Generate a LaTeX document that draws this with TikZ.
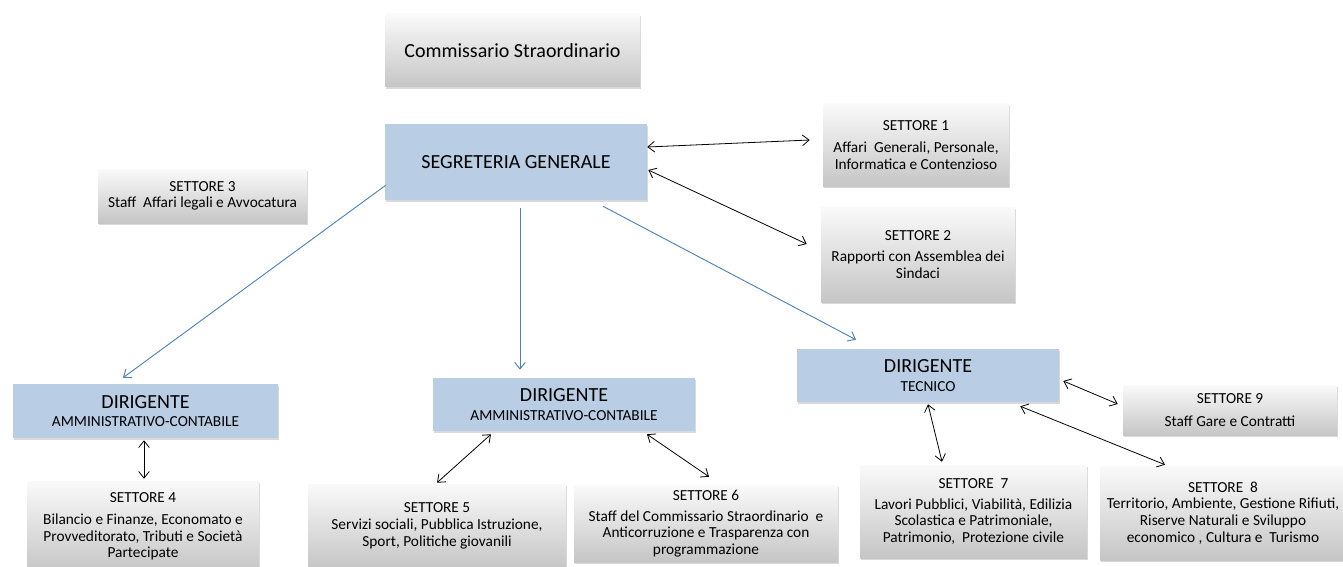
\documentclass[tikz,border=0pt]{standalone}
\usepackage{fontspec}
\setmainfont{Carlito}
\usetikzlibrary{arrows.meta,shadows}
\definecolor{dirblue}{RGB}{185,205,229}
\definecolor{linkblue}{RGB}{79,129,189}
\newcommand{\bigtxt}{\fontsize{15}{18}\selectfont}
\newcommand{\midtxt}{\fontsize{11.5}{15}\selectfont}
\newcommand{\smalltxt}{\fontsize{11.5}{12.5}\selectfont}

\begin{document}
\begin{tikzpicture}[x=0.75pt,y=-0.75pt]

      \tikzset{boxsize/.style 2 args={minimum width=#1*0.75pt, minimum height=#2*0.75pt},
               greybox/.style={top color=gray!4, bottom color=gray!45, align=center, inner sep=0pt, font=\smalltxt,
                               drop shadow={opacity=0.3, shadow xshift=1pt, shadow yshift=-1.5pt}},
               bluebox/.style={fill=dirblue, align=center, inner sep=0pt, font=\bigtxt,
                               drop shadow={opacity=0.3, shadow xshift=1pt, shadow yshift=-1.5pt}},
               bluelink/.style={color=linkblue, line width=0.7pt, -{Straight Barb[length=5pt,width=8pt]}},
               twolink/.style={color=black, line width=0.6pt, {Straight Barb[length=5pt,width=8pt]}-{Straight Barb[length=5pt,width=8pt]}}}
      \useasboundingbox (0,0) rectangle (1343,567);
% Vertices
      	\node[greybox, font=\bigtxt, boxsize={255}{73}] (comm) at (512.5,50.5) {Commissario Straordinario};
      	\node[bluebox, boxsize={262}{76}] (seg) at (516,162) {SEGRETERIA GENERALE};
      	\node[greybox, boxsize={186}{82}] (set1) at (916,145) {SETTORE 1\\[4pt]Affari~ Generali, Personale,\\Informatica e Contenzioso};
      	\node[greybox, boxsize={194}{95}] (set2) at (918,254.5) {SETTORE 2\\[3pt]Rapporti con Assemblea dei\\Sindaci};
      	\node[greybox, boxsize={209}{54}] (set3) at (202.5,196) {SETTORE 3\\Staff~ Affari legali e Avvocatura};
      	\node[bluebox, boxsize={265}{54}] (dirA) at (145.5,411) {DIRIGENTE\\[-4pt]{\midtxt AMMINISTRATIVO-CONTABILE}};
      	\node[bluebox, boxsize={262}{53}] (dirB) at (564,404.5) {DIRIGENTE\\[-4pt]{\midtxt AMMINISTRATIVO-CONTABILE}};
      	\node[bluebox, boxsize={262}{53}] (dirT) at (928,375.5) {DIRIGENTE\\[-4pt]{\midtxt TECNICO}};
      	\node[greybox, boxsize={232}{91}] (set4) at (143,526.5) {SETTORE 4\\[4pt]Bilancio e Finanze, Economato e\\Provveditorato, Tributi e Società\\Partecipate};
      	\node[greybox, boxsize={258}{84}] (set5) at (437,526) {SETTORE 5\\Servizi sociali, Pubblica Istruzione,\\Sport, Politiche giovanili};
      	\node[greybox, boxsize={264}{77}] (set6) at (706,523.5) {SETTORE 6\\[3pt]Staff del Commissario Straordinario~ e\\Anticorruzione e Trasparenza con\\programmazione};
      	\node[greybox, boxsize={227}{93}] (set7) at (973.5,511.5) {SETTORE~ 7\\[3pt]Lavori Pubblici, Viabilità, Edilizia\\Scolastica e Patrimoniale,\\Patrimonio,~ Protezione civile};
      	\node[greybox, boxsize={246}{94}] (set8) at (1223,513) {SETTORE~ 8\\Territorio, Ambiente, Gestione Rifiuti,\\Riserve Naturali e Sviluppo\\economico , Cultura e~ Turismo};
      	\node[greybox, boxsize={214}{50}] (set9) at (1230,410) {SETTORE 9\\[5pt]Staff Gare e Contratti};
%Edges
		\path[bluelink] ([shift={(1,-15)}]seg.south west) edge ([shift={(-22.5,-6)}]dirA.north);
		\path[bluelink] ([shift={(4,8)}]seg.south) edge ([shift={(-44,-8)}]dirB.north);
		\path[bluelink] ([shift={(87,6)}]seg.south) edge ([shift={(-72,-9)}]dirT.north);
		\path[twolink] ([shift={(0,-15)}]seg.east) edge ([shift={(-13,-5)}]set1.west);
		\path[twolink] ([shift={(1,8)}]seg.east) edge ([shift={(-14,-10.5)}]set2.west);
		\path[twolink] ([shift={(-1.5,2)}]dirA.south) edge ([shift={(1,-2)}]set4.north);
		\path[twolink] ([shift={(-73,3)}]dirB.south) edge ([shift={(0,-1)}]set5.north);
		\path[twolink] ([shift={(83,3)}]dirB.south) edge ([shift={(3,-8)}]set6.north);
		\path[twolink] ([shift={(0,2)}]dirT.south) edge ([shift={(-31.5,-3)}]set7.north);
		\path[twolink] ([shift={(4,5.5)}]dirT.east) edge ([shift={(-5,-6)}]set9.west);
		\path[twolink] ([shift={(-39,4)}]dirT.south east) edge ([shift={(-58,-1)}]set8.north);

	\end{tikzpicture}
\end{document}
